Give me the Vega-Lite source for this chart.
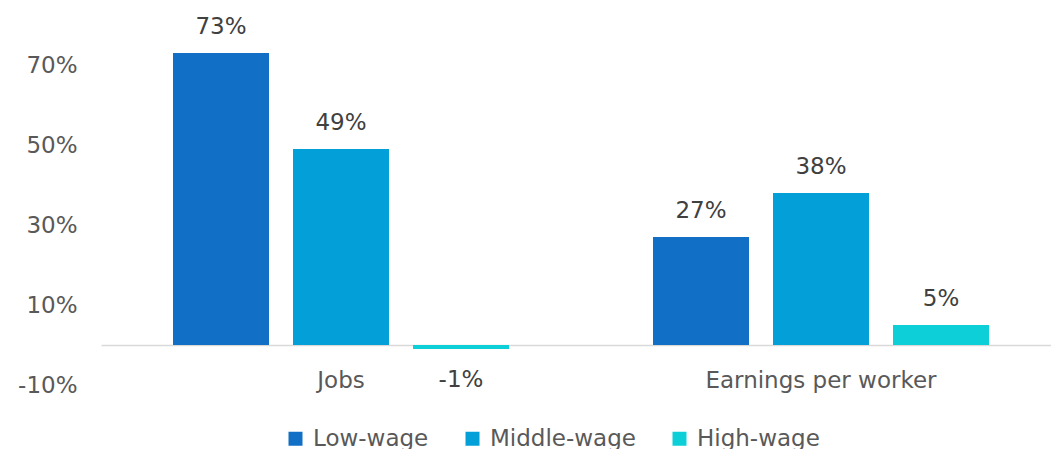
{
  "$schema": "https://vega.github.io/schema/vega-lite/v6.json",
  "autosize": {"type": "none"},
  "padding": {"left": 101, "top": 25, "right": 0, "bottom": 64},
  "width": 950,
  "height": 360,
  "background": "white",
  "config": {
    "view": {"stroke": null},
    "font": "DejaVu Sans",
    "text": {"font": "DejaVu Sans"}
  },
  "data": {
    "values": [
      {"measure": "Jobs", "group": "Low-wage", "value": 73, "label": "73%"},
      {"measure": "Jobs", "group": "Middle-wage", "value": 49, "label": "49%"},
      {"measure": "Jobs", "group": "High-wage", "value": -1, "label": "-1%"},
      {"measure": "Earnings per worker", "group": "Low-wage", "value": 27, "label": "27%"},
      {"measure": "Earnings per worker", "group": "Middle-wage", "value": 38, "label": "38%"},
      {"measure": "Earnings per worker", "group": "High-wage", "value": 5, "label": "5%"}
    ]
  },
  "encoding": {
    "x": {
      "field": "measure",
      "type": "nominal",
      "sort": ["Jobs", "Earnings per worker"],
      "scale": {"range": [0, 960], "paddingInner": 0, "paddingOuter": 0},
      "axis": {
        "title": null,
        "orient": "bottom",
        "offset": -40,
        "labelAngle": 0,
        "ticks": false,
        "tickSize": 0,
        "labelPadding": 42,
        "labelBaseline": "alphabetic",
        "labelLimit": 500,
        "labelFont": "DejaVu Sans",
        "labelFontSize": 23,
        "labelColor": "#595959",
        "domainColor": "#D9D9D9",
        "domainWidth": 1.5
      }
    },
    "xOffset": {
      "field": "group",
      "type": "nominal",
      "sort": ["Low-wage", "Middle-wage", "High-wage"],
      "scale": {"paddingInner": 0.2, "paddingOuter": 0.6}
    },
    "y": {
      "field": "value",
      "type": "quantitative",
      "scale": {"domain": [-10, 80], "nice": false, "zero": false},
      "axis": {
        "title": null,
        "values": [-10, 10, 30, 50, 70],
        "labelExpr": "datum.value + '%'",
        "grid": false,
        "domain": false,
        "ticks": false,
        "tickSize": 0,
        "labelPadding": 24,
        "labelFont": "DejaVu Sans",
        "labelFontSize": 23,
        "labelColor": "#595959"
      }
    }
  },
  "layer": [
    {
      "mark": {"type": "bar"},
      "encoding": {
        "color": {
          "field": "group",
          "type": "nominal",
          "sort": ["Low-wage", "Middle-wage", "High-wage"],
          "scale": {
            "domain": ["Low-wage", "Middle-wage", "High-wage"],
            "range": ["#116FC5", "#029FD9", "#0DCFD8"]
          },
          "legend": {
            "title": null,
            "orient": "none",
            "direction": "horizontal",
            "legendX": 183,
            "legendY": 402,
            "symbolType": "square",
            "symbolSize": 196,
            "symbolStrokeWidth": 0,
            "symbolOpacity": 1,
            "labelFont": "DejaVu Sans",
            "labelFontSize": 23,
            "labelColor": "#595959",
            "labelOffset": 6,
            "labelLimit": 300,
            "columnPadding": 32
          }
        }
      }
    },
    {
      "transform": [{"filter": "datum.value >= 0"}],
      "mark": {"type": "text", "baseline": "alphabetic", "dy": -19, "fontSize": 23, "color": "#404040", "font": "DejaVu Sans"},
      "encoding": {"text": {"field": "label"}}
    },
    {
      "transform": [{"filter": "datum.value < 0"}],
      "mark": {"type": "text", "baseline": "alphabetic", "dy": 38, "fontSize": 23, "color": "#404040", "font": "DejaVu Sans"},
      "encoding": {"text": {"field": "label"}}
    }
  ]
}
